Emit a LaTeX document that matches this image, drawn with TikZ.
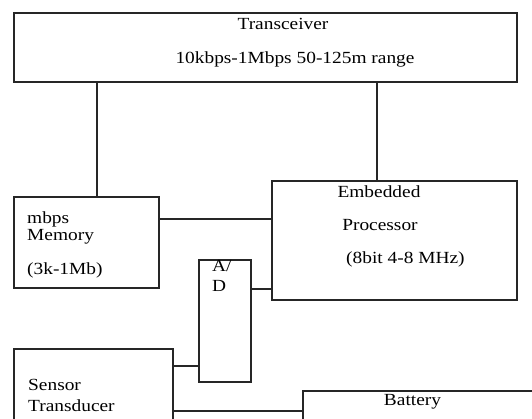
\documentclass[tikz,border=0pt]{standalone}
\usepackage{fontspec}
\setmainfont{Liberation Serif}[FakeStretch=1.14]
\begin{document}
\begin{tikzpicture}[x=1pt,y=-1pt,
  box/.style={draw=black!85, line width=1.3pt, rectangle, inner sep=0pt},
  wire/.style={draw=black!85, line width=1.3pt},
  lbl/.style={inner sep=0pt, font=\fontsize{17}{19}\selectfont}]
\useasboundingbox (0,0) rectangle (532,419);
\clip (0,0) rectangle (532,419);
% boxes
\node[box, minimum width=503pt, minimum height=69pt] (trx) at (265.5,47.5) {};
\node[box, minimum width=145pt, minimum height=91pt] (mem) at (86.5,242.5) {};
\node[box, minimum width=245pt, minimum height=119pt] (proc) at (394.5,240.5) {};
\node[box, minimum width=52pt, minimum height=122pt] (ad) at (225,321) {};
\node[box, minimum width=159pt, minimum height=81pt] (sen) at (93.5,389.5) {};
\node[box, minimum width=237pt, minimum height=49pt] (bat) at (421.5,415.5) {};
% helper coordinates
\coordinate (c1) at (97,0);
\coordinate (c2) at (377,0);
\coordinate (c3) at (0,219);
\coordinate (c4) at (0,289);
\coordinate (c5) at (0,366);
\coordinate (c6) at (0,411);
% connectors
\draw[wire] (trx.south -| c1) -- (mem.north -| c1);
\draw[wire] (trx.south -| c2) -- (proc.north -| c2);
\draw[wire] (mem.east |- c3) -- (proc.west |- c3);
\draw[wire] (ad.east |- c4) -- (proc.west |- c4);
\draw[wire] (sen.east |- c5) -- (ad.west |- c5);
\draw[wire] (sen.east |- c6) -- (bat.west |- c6);
% texts
\node[lbl] (t1) at (283,24) {Transceiver};
\node[lbl] (t2) at (295,59) {10kbps-1Mbps 50-125m range};
\node[lbl, anchor=mid west] (m1) at (27,221) {mbps};
\node[lbl, anchor=mid west] (m2) at (27,238) {Memory};
\node[lbl, anchor=mid west] (m3) at (27,272) {(3k-1Mb)};
\node[lbl] (p1) at (379,192) {Embedded};
\node[lbl] (p2) at (380,225) {Processor};
\node[lbl, anchor=mid west] (p3) at (346,261) {(8bit 4-8 MHz)};
\node[lbl, anchor=mid west] (a1) at (212,269) {A/};
\node[lbl, anchor=mid west] (a2) at (212,289) {D};
\node[lbl, anchor=mid west] (s1) at (28,388) {Sensor};
\node[lbl, anchor=mid west] (s2) at (28,409) {Transducer};
\node[lbl] (b1) at (412.5,402) {Battery};
\end{tikzpicture}
\end{document}
